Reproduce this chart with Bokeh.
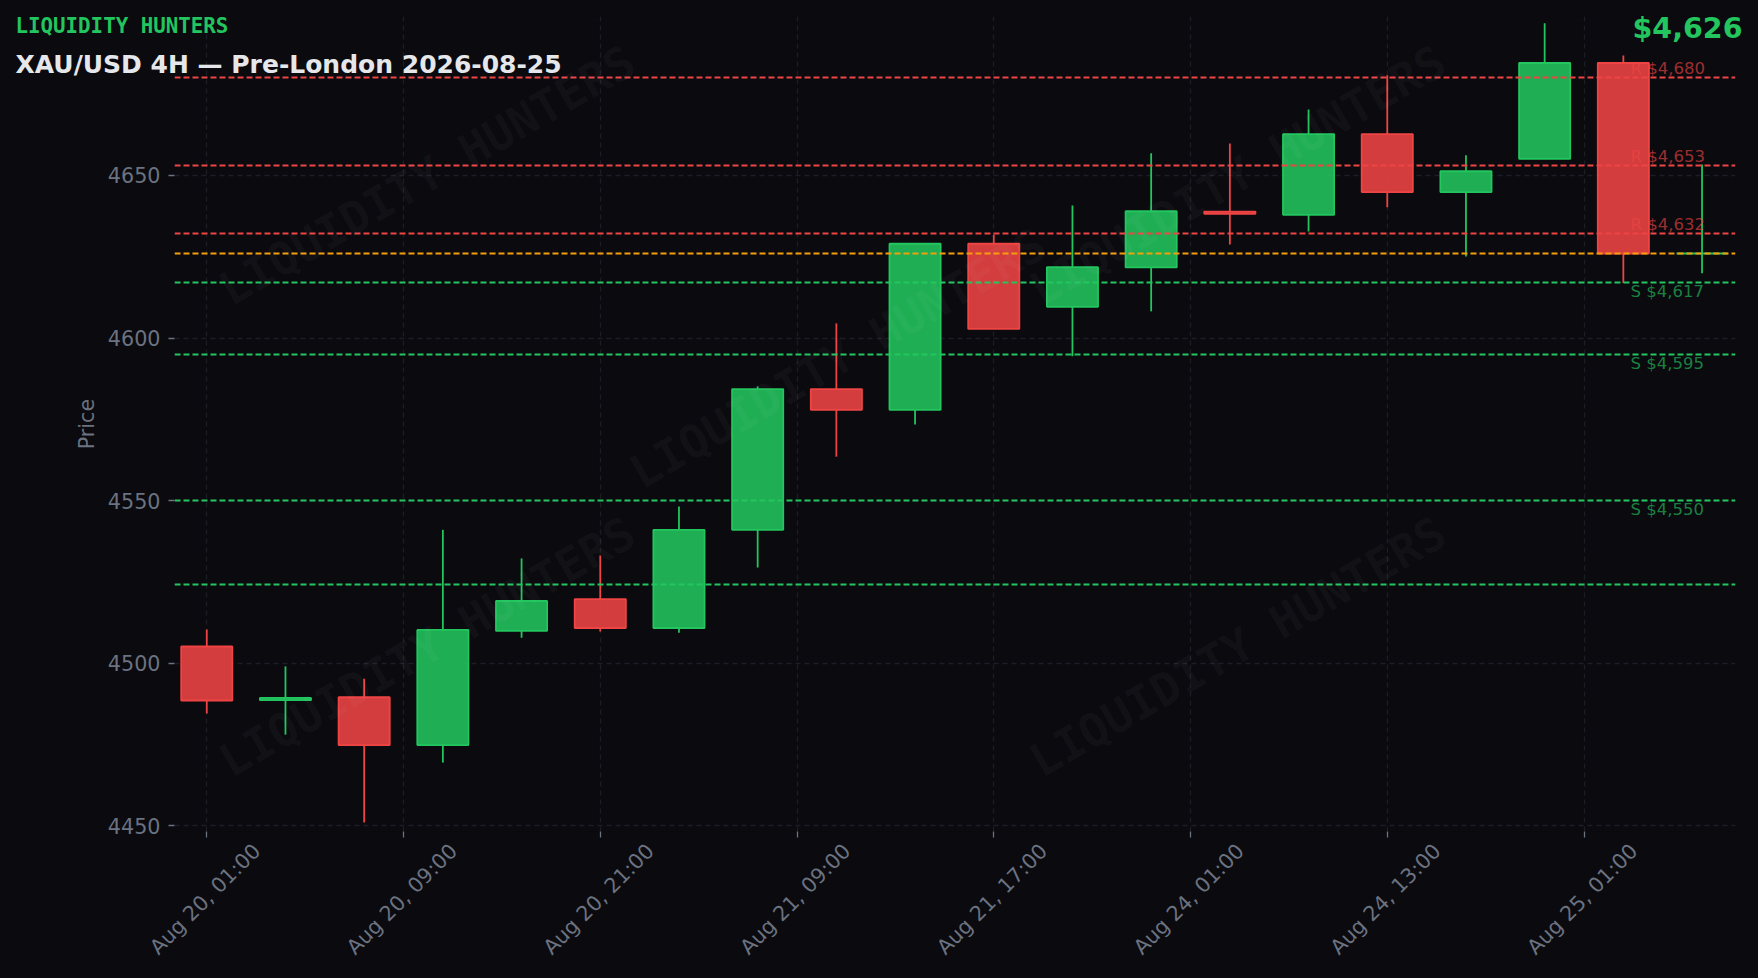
import math

from bokeh.core.properties import value
from bokeh.embed import file_html
from bokeh.layouts import column
from bokeh.models import ColumnDataSource, FixedTicker, GlobalInlineStyleSheet, LinearAxis, Range1d
from bokeh.plotting import figure
from bokeh.resources import INLINE

# candles
opens = [4505.1, 4488.6, 4489.5, 4474.8, 4509.9, 4519.7, 4510.8, 4541.0, 4584.3, 4577.9,
         4629.0, 4609.6, 4621.7, 4638.9, 4637.9, 4662.7, 4644.9, 4655.1, 4684.6, 4626.0]
closes = [4488.5, 4489.3, 4474.8, 4510.2, 4519.1, 4510.8, 4541.0, 4584.3, 4577.9, 4629.0,
          4602.8, 4621.8, 4639.0, 4638.2, 4662.7, 4644.9, 4651.3, 4684.6, 4626.0, 4626.0]
highs = [4510.3, 4499.0, 4495.2, 4541.0, 4532.2, 4533.1, 4548.2, 4585.1, 4604.5, 4629.0,
         4631.8, 4640.8, 4656.8, 4659.8, 4670.3, 4680.8, 4656.2, 4696.8, 4686.9, 4653.4]
lows = [4484.5, 4478.0, 4451.0, 4469.4, 4507.8, 4509.7, 4509.3, 4529.4, 4563.5, 4573.4,
        4602.8, 4594.4, 4608.2, 4628.8, 4632.8, 4640.2, 4625.1, 4655.1, 4616.9, 4619.9]

# horizontal levels
levels = [4680, 4653, 4632, 4626, 4617, 4595, 4550, 4524.3]
level_kinds = ["R", "R", "R", "P", "S", "S", "S", "S"]
labelled = [4680, 4653, 4632, 4617, 4595, 4550]

tick_pos = [0, 2.5, 5, 7.5, 10, 12.5, 15, 17.5]
tick_labels = ["Aug 20, 01:00", "Aug 20, 09:00", "Aug 20, 21:00", "Aug 21, 09:00",
               "Aug 21, 17:00", "Aug 24, 01:00", "Aug 24, 13:00", "Aug 25, 01:00"]
y_ticks = [4450, 4500, 4550, 4600, 4650]

# watermark centres
wm_x = [2.8, 13.1, 8.02, 2.8, 13.1]
wm_y = [4650, 4650, 4593.7, 4505, 4505]

BG = "#0a0a0f"
GREEN = "#22c55e"
RED = "#ef4444"
ORANGE = "#f59e0b"
GREY = "#6b7280"
GRID = "#1c1d27"
SANS = "DejaVu Sans"
MONO = "DejaVu Sans Mono"

fig = figure(width=1758, height=978, output_backend="svg", toolbar_location=None,
             x_range=Range1d(-0.41, 19.425), y_range=Range1d(4448.2, 4698.9),
             min_border_left=174, min_border_right=23, min_border_top=16, min_border_bottom=147,
             background_fill_color=BG, border_fill_color=BG, outline_line_color=None,
             frame_align=False)
fig.stylesheets = [GlobalInlineStyleSheet(css="html,body{margin:0;background:%s;overflow:hidden}" % BG)]

fig.ygrid.ticker = FixedTicker(ticks=y_ticks)
fig.xgrid.ticker = FixedTicker(ticks=tick_pos)
for g in (fig.xgrid, fig.ygrid):
    g.grid_line_color = GRID
    g.grid_line_width = 1.3
    g.grid_line_dash = "5 4"

fig.yaxis.ticker = FixedTicker(ticks=y_ticks)
fig.yaxis.axis_label = "Price"
fig.yaxis.axis_label_text_color = GREY
fig.yaxis.axis_label_text_font = SANS
fig.yaxis.axis_label_text_font_size = "20.7px"
fig.yaxis.axis_label_text_font_style = "normal"
fig.yaxis.axis_label_standoff = 6
fig.yaxis.major_label_text_color = GREY
fig.yaxis.major_label_text_font = SANS
fig.yaxis.major_label_text_font_size = "20.7px"
fig.yaxis.major_label_standoff = 8
fig.yaxis.axis_line_color = None
fig.yaxis.major_tick_line_color = GREY
fig.yaxis.major_tick_line_width = 1.3
fig.yaxis.major_tick_out = 6
fig.yaxis.major_tick_in = 0
fig.yaxis.minor_tick_line_color = None

# tick marks only, the slanted labels sit on a second axis so they can be centred on the ticks
fig.xaxis.ticker = FixedTicker(ticks=tick_pos)
fig.xaxis.axis_line_color = None
fig.xaxis.major_tick_line_color = GREY
fig.xaxis.major_tick_line_width = 1.3
fig.xaxis.major_tick_out = 6
fig.xaxis.major_tick_in = 0
fig.xaxis.minor_tick_line_color = None
fig.xaxis.major_label_text_font_size = "1px"
fig.xaxis.major_label_text_color = None
fig.xaxis.major_label_standoff = 0

label_shift = 0.635
shifted = [t + label_shift for t in tick_pos]
label_axis = LinearAxis(ticker=FixedTicker(ticks=shifted),
                        major_label_overrides=dict(zip(shifted, tick_labels)),
                        major_label_orientation=math.pi / 4,
                        major_label_text_color=GREY,
                        major_label_text_font=SANS,
                        major_label_text_font_size="20.7px",
                        major_label_standoff=4,
                        axis_line_color=None,
                        major_tick_line_color=None,
                        minor_tick_line_color=None)
fig.add_layout(label_axis, "below")

colors = [GREEN if c >= o else RED for o, c in zip(opens, closes)]
source = ColumnDataSource(dict(
    x=list(range(len(opens))),
    top=[max(o, c) for o, c in zip(opens, closes)],
    bottom=[min(o, c) for o, c in zip(opens, closes)],
    high=highs,
    low=lows,
    color=colors,
))

fig.segment("x", "high", "x", "top", source=source, line_color="color", line_width=1.8)
fig.segment("x", "bottom", "x", "low", source=source, line_color="color", line_width=1.8)
fig.vbar("x", 0.65, "top", "bottom", source=source, fill_color="color", fill_alpha=0.88,
         line_color="color", line_width=1.8)

level_colors = {"R": RED, "S": GREEN, "P": ORANGE}
fig.hspan(y=levels, line_color=[level_colors[k] for k in level_kinds], line_width=2,
          line_dash="6 3", line_alpha=1.0)

fig.text(x=wm_x, y=wm_y, text=["LIQUIDITY HUNTERS"] * len(wm_x), angle=30, angle_units="deg",
         text_align="center", text_baseline="middle", text_color="#ffffff", text_alpha=0.04,
         text_font=value(MONO), text_font_style="bold", text_font_size="46px")

for lv, kind in zip(levels, level_kinds):
    if lv not in labelled:
        continue
    fig.text(x=[18.09], y=[lv], text=["%s $%s" % (kind, format(lv, ","))],
             text_color=level_colors[kind], text_alpha=0.65, text_font=value(SANS),
             text_font_size="16.5px", text_align="left", text_baseline="middle",
             y_offset=-9 if kind == "R" else 9)

# annotations get clipped to the frame, so the header is a see-through figure laid over the top
head = figure(width=1758, height=90, output_backend="svg", toolbar_location=None,
              x_range=Range1d(0, 1758), y_range=Range1d(90, 0),
              x_axis_type=None, y_axis_type=None, min_border=0,
              background_fill_color=None, border_fill_color=None, outline_line_color=None,
              frame_align=False, styles={"position": "absolute", "left": "0", "top": "0"})
head.grid.visible = False
head.text(x=[15], y=[25], text=["LIQUIDITY HUNTERS"], text_color=GREEN, text_font=value(MONO),
          text_font_style="bold", text_font_size="20.8px", text_baseline="middle")
head.text(x=[15], y=[64], text=["XAU/USD 4H \u2014 Pre-London 2026-08-25"], text_color="#e5e7eb",
          text_font=value(SANS), text_font_style="bold", text_font_size="25px", text_baseline="middle")
head.text(x=[1742], y=[28], text=["$4,626"], text_color=GREEN, text_font=value(SANS),
          text_font_style="bold", text_font_size="28.5px", text_align="right", text_baseline="middle")

p = column(fig, head)

open("out.html", "w").write(file_html(p, INLINE))
